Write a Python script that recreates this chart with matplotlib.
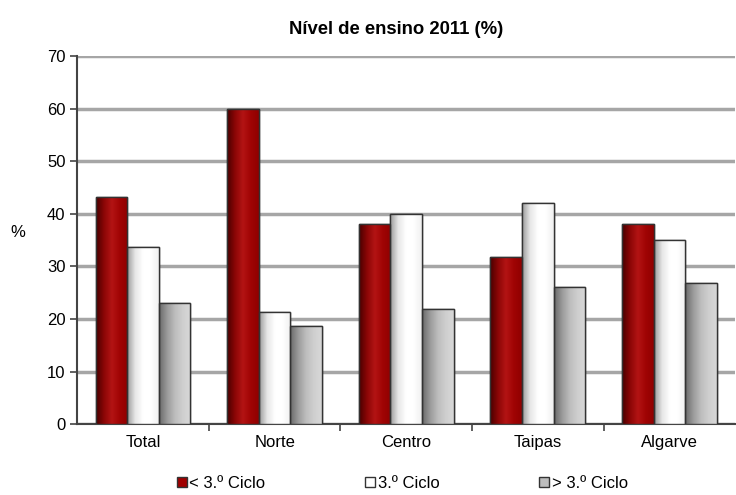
import numpy as np
import matplotlib.pyplot as plt
from matplotlib.patches import Patch
from matplotlib.colors import LinearSegmentedColormap

plt.rcParams['font.family'] = ['Liberation Sans', 'DejaVu Sans']

# dados
regioes = ["Total", "Norte", "Centro", "Taipas", "Algarve"]
abaixo_3ciclo = [43.2, 60.0, 38.0, 31.7, 38.0]
ciclo3 = [33.6, 21.3, 39.9, 42.0, 35.0]
acima_3ciclo = [23.0, 18.6, 21.9, 26.0, 26.8]
series_nomes = ["< 3.º Ciclo", "3.º Ciclo", "> 3.º Ciclo"]

cores = ["#a00000", "#ffffff", "#bdbdbd"]
gradientes = [
    ["#4a0000", "#8c0606", "#b31414", "#a00404", "#900000"],
    ["#9a9a9a", "#e6e6e6", "#ffffff", "#ffffff", "#f0f0f0"],
    ["#6a6a6a", "#9a9a9a", "#bdbdbd", "#cfcfcf", "#d8d8d8"],
]

fig, ax = plt.subplots(figsize=(7.36, 4.95), dpi=100)
fig.subplots_adjust(left=0.105, right=0.999, top=0.887, bottom=0.143)

x = np.arange(len(regioes))
larg = 0.24
valores = [abaixo_3ciclo, ciclo3, acima_3ciclo]

for i, vals in enumerate(valores):
    barras = ax.bar(x + (i - 1) * larg, vals, larg, color=cores[i],
                    edgecolor="#333333", linewidth=1.0, zorder=3)
    cmap = LinearSegmentedColormap.from_list("g%d" % i, gradientes[i])
    grad = np.linspace(0, 1, 64).reshape(1, -1)
    for b in barras:
        x0, y0 = b.get_x(), b.get_y()
        w, h = b.get_width(), b.get_height()
        im = ax.imshow(grad, cmap=cmap, aspect="auto",
                       extent=[x0, x0 + w, y0, y0 + h], zorder=3.5)
        im.set_clip_path(b)
        # contorno por cima do gradiente
        ax.bar(x0 + w / 2, h, w, fill=False, edgecolor="#333333",
               linewidth=1.0, zorder=4)

ax.set_xlim(-0.5, len(regioes) - 0.5)
ax.set_ylim(0, 70)
ax.set_yticks(range(0, 71, 10))
ax.yaxis.grid(True, color="#a6a6a6", linewidth=2.5, zorder=0)
ax.set_axisbelow(True)

ax.set_xticks(x)
ax.set_xticklabels(regioes, fontsize=12)
ax.set_xticks(np.arange(0.5, len(regioes) - 0.5, 1), minor=True)
ax.tick_params(axis="x", which="major", length=0, pad=8)
ax.tick_params(axis="x", which="minor", length=5, width=1.2, color="#444444")
ax.tick_params(axis="y", labelsize=12, length=5, width=1.2, color="#444444")

for s in ["top", "right"]:
    ax.spines[s].set_visible(False)
for s in ["left", "bottom"]:
    ax.spines[s].set_color("#444444")
    ax.spines[s].set_linewidth(1.5)

ax.set_ylabel("%", fontsize=12, rotation=0, labelpad=16)
ax.yaxis.set_label_coords(-0.09, 0.5)
ax.set_title("Nível de ensino 2011 (%)", fontsize=13.3, fontweight="bold", pad=16, x=0.485)

handles = [Patch(facecolor=c, edgecolor="#333333", linewidth=1.0) for c in cores]
ax.legend(handles, series_nomes, loc="upper center", bbox_to_anchor=(0.494, -0.1),
          ncol=3, frameon=False, fontsize=12, handlelength=0.6, handleheight=0.6,
          handletextpad=0.15, columnspacing=6.0)

fig.savefig("out.png", dpi=100)
